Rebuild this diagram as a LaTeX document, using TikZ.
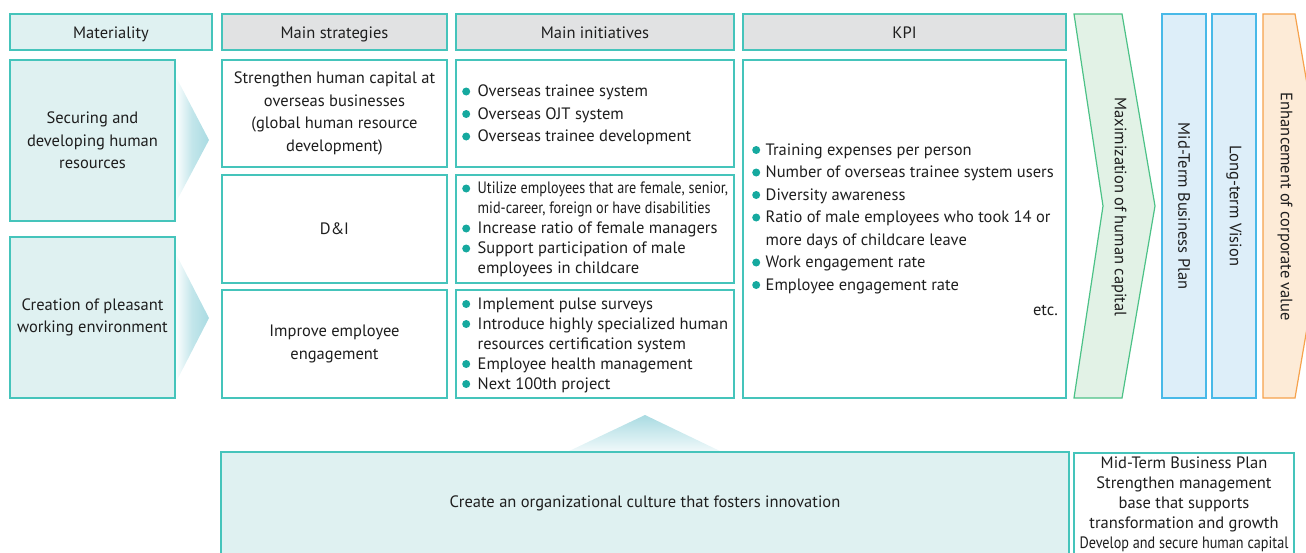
\documentclass[tikz,border=0pt]{standalone}
\usepackage{fontspec}
\setmainfont{PT Sans}
\usepackage{graphicx}

\definecolor{tline}{HTML}{45C4BB}
\definecolor{tfill}{HTML}{DFF1F1}
\definecolor{gfill}{HTML}{E1E2E3}
\definecolor{tdot}{HTML}{16A99F}
\definecolor{tarrow}{HTML}{A9DBE2}
\definecolor{ink}{HTML}{1E1E1E}
\definecolor{grline}{HTML}{4CC287}
\definecolor{grfill}{HTML}{E2F2E6}
\definecolor{blline}{HTML}{48B9E8}
\definecolor{blfill}{HTML}{DDEEF9}
\definecolor{orline}{HTML}{F6A24C}
\definecolor{orfill}{HTML}{FDEBD7}

\newcommand{\dotb}{\tikz[x=1pt, y=1pt, baseline=-5pt]\fill[tdot] (0,0) circle [radius=4];}
\newcommand{\narrow}[1]{\scalebox{0.86}[1]{#1}}

\begin{document}
\begin{tikzpicture}[x=1pt,y=-1pt, text=ink,
    font=\fontsize{16.5}{22.5}\selectfont,
    box/.style={draw=tline, line width=1.2pt, inner sep=0pt, align=center},
    hdr/.style={box, fill=gfill, minimum height=36pt, text height=14pt, text depth=2pt},
    matbox/.style={box, fill=tfill, minimum width=165pt, minimum height=161pt},
    strbox/.style={box, fill=white, minimum width=225pt, minimum height=108pt},
    inibox/.style={box, fill=white, minimum width=278pt, minimum height=108pt},
    vbox/.style={draw=blline, line width=1.2pt, fill=blfill, minimum width=44pt, minimum height=384pt, inner sep=0pt},
    vtext/.style={rotate=-90, inner sep=0pt},
    list/.style={anchor=west, inner sep=0pt, align=left}]

    \useasboundingbox (0,0) rectangle (1306,552);
    \clip (0,0) rectangle (1306,552);

    % 見出し
    \node[hdr, fill=tfill, minimum width=202pt] (hmat) at (111,32) {Materiality};
    \node[hdr, minimum width=225pt] (hstr) at (334.5,32) {Main strategies};
    \node[hdr, minimum width=278pt] (hini) at (595,32) {Main initiatives};
    \node[hdr, minimum width=323pt] (hkpi) at (904.5,32) {KPI};

    % マテリアリティ
    \shade[left color=white, right color=tarrow, middle color=tarrow!70]
        (175,75) -- (209,140) -- (175,204) -- cycle;
    \shade[left color=white, right color=tarrow, middle color=tarrow!70]
        (175,252) -- (209,318) -- (175,384) -- cycle;
    \node[matbox] (mat1) at (92.5,140.5) {Securing and\\developing human\\resources};
    \node[matbox] (mat2) at (92.5,317.5) {Creation of pleasant\\working environment};

    % 主な戦略
    \node[strbox, minimum height=107pt] (str1) at (334.5,113.5)
        {Strengthen human capital at\\overseas businesses\\(global human resource\\development)};
    \node[strbox] (str2) at (334.5,229) {D\&I};
    \node[strbox] (str3) at (334.5,344) {Improve employee\\engagement};

    % 主な施策
    \node[inibox, minimum height=107pt] (ini1) at (595,113.5) {};
    \node[inibox] (ini2) at (595,229) {};
    \node[inibox] (ini3) at (595,344) {};
    \node[list] (lst1) at (462,114.5) {\begin{tabular}{@{}l@{\hspace{7.5pt}}l@{}}
        \dotb & Overseas trainee system\\
        \dotb & Overseas OJT system\\
        \dotb & Overseas trainee development
      \end{tabular}};
    \node[list, font=\fontsize{16.5}{20}\selectfont] (lst2) at (462,229.5) {\begin{tabular}{@{}l@{\hspace{7.5pt}}l@{}}
        \dotb & \narrow{Utilize employees that are female, senior,}\\
              & \narrow{mid-career, foreign or have disabilities}\\
        \dotb & Increase ratio of female managers\\
        \dotb & Support participation of male\\
              & employees in childcare
      \end{tabular}};
    \node[list, font=\fontsize{16.5}{20}\selectfont] (lst3) at (462,345) {\begin{tabular}{@{}l@{\hspace{7.5pt}}l@{}}
        \dotb & Implement pulse surveys\\
        \dotb & Introduce highly specialized human\\
              & resources certification system\\
        \dotb & Employee health management\\
        \dotb & Next 100th project
      \end{tabular}};

    % KPI
    \node[box, minimum width=323pt, minimum height=338pt] (kpi) at (904.5,229) {};
    \node[list] (lstk) at (752,218) {\begin{tabular}{@{}l@{\hspace{5.5pt}}l@{}}
        \dotb & Training expenses per person\\
        \dotb & Number of overseas trainee system users\\
        \dotb & Diversity awareness\\
        \dotb & Ratio of male employees who took 14 or\\
              & more days of childcare leave\\
        \dotb & Work engagement rate\\
        \dotb & Employee engagement rate
      \end{tabular}};
    \node[anchor=east, inner sep=0pt] (etc) at (1058,310) {etc.};

    % 人的資本の最大化
    \draw[draw=grline, line width=1.2pt, fill=grfill]
        (1074,14) -- (1122,14) -- (1155,206) -- (1122,398) -- (1074,398) -- (1103,206) -- cycle;
    \node[vtext] (maxi) at (1119,207) {Maximization of human capital};

    % 中期経営計画・長期ビジョン
    \node[vbox] (mtbp) at (1184,206) {};
    \node[vtext] at (mtbp.center) {Mid-Term Business Plan};
    \node[vbox] (ltv) at (1234,206) {};
    \node[vtext] at (ltv.center) {Long-term Vision};

    % 企業価値の向上
    \draw[draw=orline, line width=1.2pt, fill=orfill]
        (1263,14) -- (1295,14) -- (1328,206) -- (1295,398) -- (1263,398) -- cycle;
    \node[vtext] (ecv) at (1285,207) {Enhancement of corporate value};

    % 組織風土
    \shade[top color=tarrow, bottom color=tarrow!15]
        (645,415) -- (722,452) -- (567,452) -- cycle;
    \draw[draw=tline, line width=1.2pt, fill=tfill] (221,452) rectangle (1069,600);
    \node (cult) at (645,503) {Create an organizational culture that fosters innovation};
    \draw[draw=tline, line width=1.2pt, fill=white] (1074,453) rectangle (1294,600);
    \node[align=center, font=\fontsize{16.5}{20}\selectfont, inner sep=0pt] (mtbp2) at (1184,504)
        {Mid-Term Business Plan\\Strengthen management\\base that supports\\transformation and growth\\\scalebox{0.86}[1]{Develop and secure human capital}};

\end{tikzpicture}
\end{document}
